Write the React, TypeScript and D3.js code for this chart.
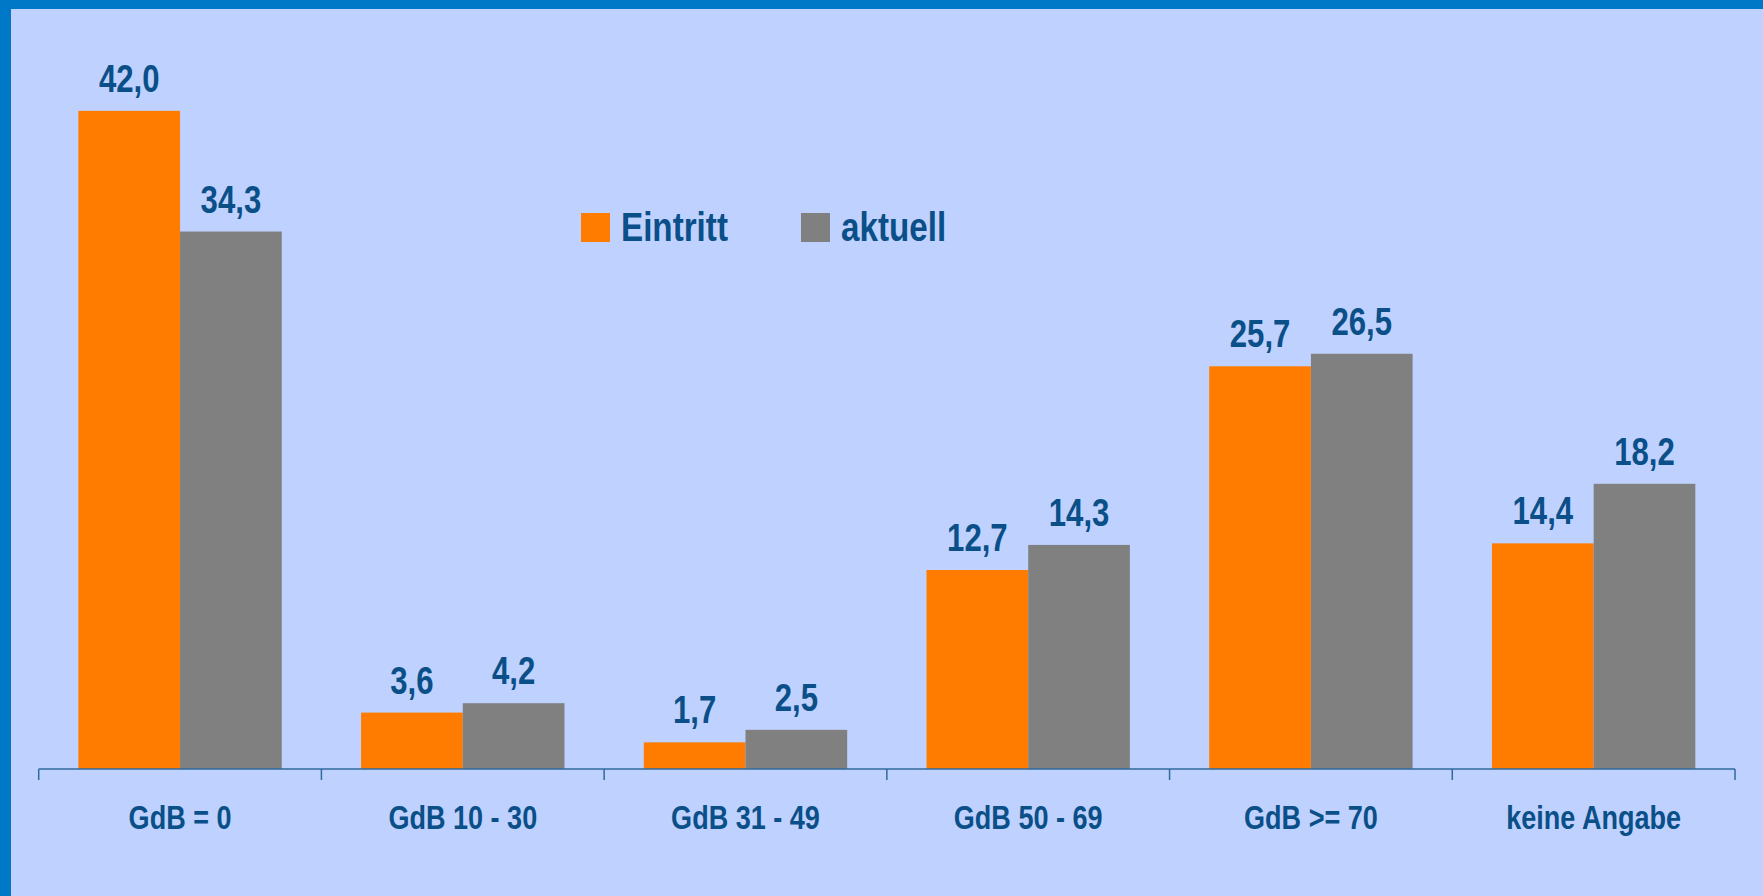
import React from "react";
import * as d3 from "d3";

const categories = ["GdB = 0", "GdB 10 - 30", "GdB 31 - 49", "GdB 50 - 69", "GdB >= 70", "keine Angabe"];
const seriesNames = ["Eintritt", "aktuell"];
const eintritt = [42.0, 3.6, 1.7, 12.7, 25.7, 14.4];
const aktuell = [34.3, 4.2, 2.5, 14.3, 26.5, 18.2];

const W = 1763;
const H = 896;
const COLORS = ["#ff7c00", "#808080"];
const TEXT = "#0a4f88";
const FONT = "'Liberation Sans', Arial, sans-serif";
const SX = 0.82;

function NText({ x, y, size, anchor = "middle", children }: { x: number; y: number; size: number; anchor?: string; children: React.ReactNode }) {
  return (
    <text
      transform={`translate(${x},${y}) scale(${SX},1)`}
      textAnchor={anchor}
      fontFamily={FONT}
      fontWeight="bold"
      fontSize={size}
      fill={TEXT}
    >
      {children}
    </text>
  );
}

export default function App() {
  const x0 = 38.7, x1 = 1735;
  const baseY = 769;
  const pxPerUnit = 15.67;
  const yMax = 45;
  const x = d3.scaleBand<string>().domain(categories).range([x0, x1]).paddingInner(0).paddingOuter(0);
  const inner = d3.scaleBand<string>().domain(seriesNames).range([0, x.bandwidth()]).paddingInner(0).paddingOuter(0.39);
  const y = d3.scaleLinear().domain([0, yMax]).range([baseY, baseY - yMax * pxPerUnit]);
  const series = [eintritt, aktuell];
  const fmt = (v: number) => v.toFixed(1).replace(".", ",");

  return (
    <svg width={W} height={H} style={{ position: "absolute", left: 0, top: 0, display: "block" }}>
      <rect x={0} y={0} width={W} height={H} fill="#0078c8" />
      <rect x={11} y={9} width={W - 11} height={H - 9} fill="#bfd2ff" />
      {categories.map((c, ci) =>
        series.map((s, si) => {
          const bx = (x(c) as number) + (inner(seriesNames[si]) as number);
          const bw = inner.bandwidth();
          const v = s[ci];
          return (
            <g key={c + si}>
              <rect x={bx} y={y(v)} width={bw} height={baseY - y(v)} fill={COLORS[si]} />
              <NText x={bx + bw / 2} y={y(v) - 19} size={38}>{fmt(v)}</NText>
            </g>
          );
        })
      )}
      <line x1={x0} x2={x1} y1={baseY} y2={baseY} stroke="#2f6a9c" strokeWidth={1.5} />
      {[...categories.map((c) => x(c) as number), x1].map((tx, i) => (
        <line key={i} x1={tx} x2={tx} y1={baseY} y2={baseY + 11} stroke="#2f6a9c" strokeWidth={1.5} />
      ))}
      {categories.map((c) => (
        <NText key={c} x={(x(c) as number) + x.bandwidth() / 2} y={829} size={33}>{c}</NText>
      ))}
      <g>
        <rect x={581} y={213} width={29} height={29} fill={COLORS[0]} />
        <NText x={621} y={241} size={40.5} anchor="start">{seriesNames[0]}</NText>
        <rect x={801} y={213} width={29} height={29} fill={COLORS[1]} />
        <NText x={841} y={241} size={40.5} anchor="start">{seriesNames[1]}</NText>
      </g>
    </svg>
  );
}
